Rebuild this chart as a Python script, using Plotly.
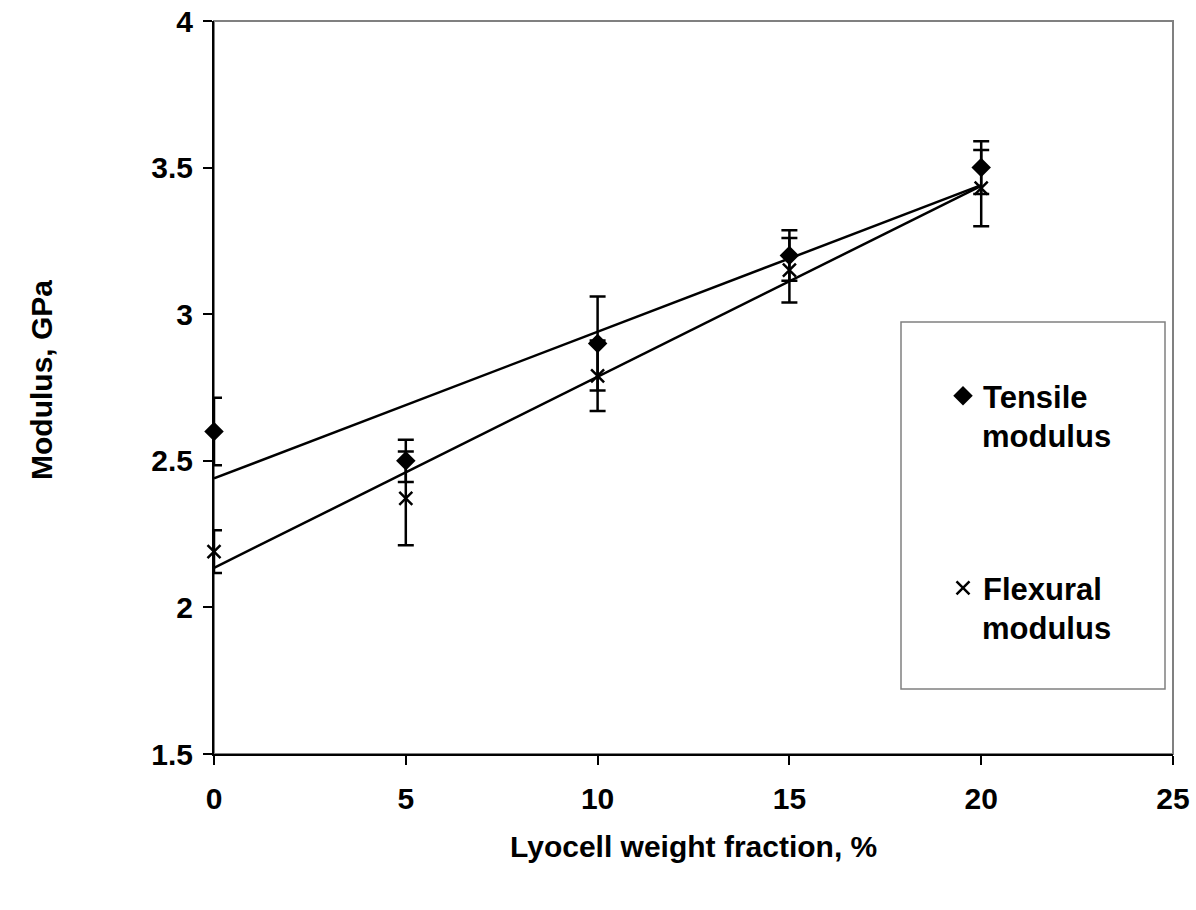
import numpy as np
import plotly.graph_objects as go

# Lyocell weight fraction (%)
fraction = [0, 5, 10, 15, 20]

# Tensile modulus (GPa) and its standard deviation
tensile = [2.60, 2.50, 2.90, 3.20, 3.50]
tensile_err = [0.115, 0.072, 0.16, 0.086, 0.09]

# Flexural modulus (GPa) and its standard deviation
flexural = [2.19, 2.372, 2.79, 3.15, 3.43]
flexural_err = [0.073, 0.16, 0.12, 0.11, 0.13]

x_ticks = [0, 5, 10, 15, 20, 25]
y_ticks = [1.5, 2, 2.5, 3, 3.5, 4]

FONT = "Liberation Sans, Arial, sans-serif"
TICK_SIZE = 30
LEGEND_SIZE = 31

fig = go.Figure()

# Linear least-squares trend lines through each series
x_fit = np.array([fraction[0], fraction[-1]], dtype=float)
for series in (tensile, flexural):
    slope, intercept = np.polyfit(fraction, series, 1)
    fig.add_trace(go.Scatter(
        x=x_fit, y=slope * x_fit + intercept, mode="lines",
        line=dict(color="black", width=2.5), showlegend=False,
        hoverinfo="skip", cliponaxis=False))

err_style = dict(type="data", visible=True, color="black", thickness=2.5, width=8)

fig.add_trace(go.Scatter(
    x=fraction, y=tensile, mode="markers", name="Tensile",
    legendgroup="t", cliponaxis=False,
    marker=dict(symbol="diamond", size=15, color="black"),
    error_y=dict(array=tensile_err, **err_style)))

fig.add_trace(go.Scatter(
    x=fraction, y=flexural, mode="markers", name="Flexural",
    legendgroup="f", cliponaxis=False,
    marker=dict(symbol="x-thin", size=13, color="black",
                line=dict(color="black", width=2.5)),
    error_y=dict(array=flexural_err, **err_style)))

W, H = 1196, 910
L, R, T, B = 214, 23, 21, 156
pw, ph = W - L - R, H - T - B


def px_x(p):
    return (p - L) / pw


def px_y(p):
    return (H - B - p) / ph


bold = lambda size: dict(family=FONT, size=size, color="black", weight="bold")

axis_common = dict(
    showgrid=False, zeroline=False, showline=True, linecolor="black",
    linewidth=2, ticks="outside", ticklen=9, tickwidth=1.5, tickcolor="black",
    tickfont=bold(TICK_SIZE), automargin=False,
)

fig.update_layout(
    width=W, height=H,
    margin=dict(l=L, r=R, t=T, b=B),
    paper_bgcolor="white", plot_bgcolor="white",
    font=dict(family=FONT, color="black"),
    xaxis=dict(range=[0, 25], tickvals=x_ticks, ticklabelstandoff=8, **axis_common),
    yaxis=dict(range=[1.5, 4], tickvals=y_ticks, ticklabelstandoff=4, **axis_common),
    showlegend=True,
    legend=dict(
        x=px_x(943), y=px_y(369), xanchor="left", yanchor="top",
        bgcolor="rgba(0,0,0,0)", borderwidth=0, valign="middle",
        tracegroupgap=149, traceorder="grouped",
        font=bold(LEGEND_SIZE),
    ),
    shapes=[
        # plot frame
        dict(type="rect", xref="paper", yref="paper", x0=0, y0=0, x1=1, y1=1,
             line=dict(color="#808080", width=2), layer="below"),
        # legend box
        dict(type="rect", xref="paper", yref="paper",
             x0=px_x(901), x1=px_x(1165), y0=px_y(689), y1=px_y(322),
             line=dict(color="#808080", width=1.5), fillcolor="rgba(0,0,0,0)"),
    ],
    annotations=[
        # second line of each legend entry
        dict(text="modulus", xref="paper", yref="paper",
             x=px_x(980), y=px_y(437), xanchor="left", yanchor="middle",
             showarrow=False, font=bold(LEGEND_SIZE)),
        dict(text="modulus", xref="paper", yref="paper",
             x=px_x(980), y=px_y(628), xanchor="left", yanchor="middle",
             showarrow=False, font=bold(LEGEND_SIZE)),
        # axis titles
        dict(text="Lyocell weight fraction, %", xref="paper", yref="paper",
             x=0.5, y=px_y(846), xanchor="center", yanchor="middle",
             showarrow=False, font=bold(TICK_SIZE)),
        dict(text="Modulus, GPa", xref="paper", yref="paper",
             x=px_x(42), y=px_y(380), xanchor="center", yanchor="middle",
             textangle=-90, showarrow=False, font=bold(TICK_SIZE)),
    ],
)

fig.write_html("out.html")
